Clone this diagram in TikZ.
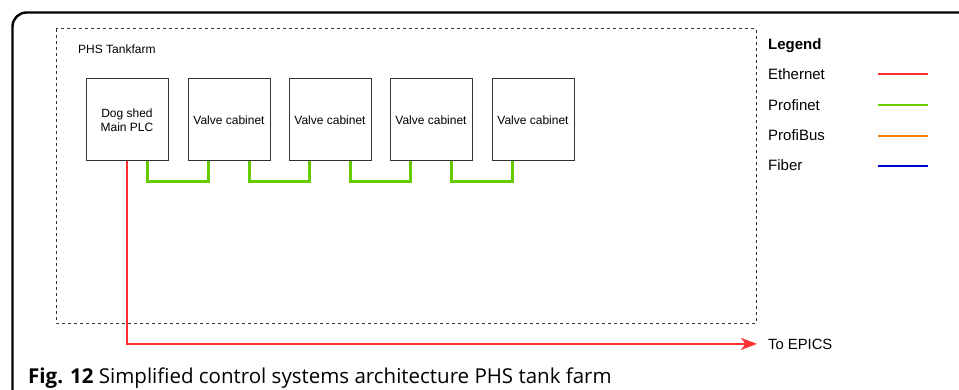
\documentclass[tikz,border=0pt]{standalone}
\usepackage{fontspec}
\setmainfont{Liberation Sans}
\newfontfamily\capfont{Open Sans}
\usetikzlibrary{arrows.meta,calc}

\definecolor{ethred}{HTML}{FF3030}
\definecolor{pngreen}{HTML}{66CC00}
\definecolor{pborange}{HTML}{FF8000}
\definecolor{fibblue}{HTML}{0000CC}
\definecolor{boxgray}{HTML}{333333}

\tikzset{
  cabinet/.style={draw=boxgray, line width=1pt, minimum width=82pt, minimum height=82pt,
    inner sep=0pt, align=center, font=\fontsize{12}{14}\selectfont},
  label/.style={inner sep=0pt, anchor=base west},
  ethernet/.style={draw=ethred, line width=2.4pt},
  profinet/.style={draw=pngreen, line width=2.4pt},
  legline/.style={line width=2.2pt},
}

\begin{document}
\begin{tikzpicture}[x=1pt, y=-1pt]
  \useasboundingbox (0,0) rectangle (959,390);

  % figure frame with rounded top-left corner
  \draw[line width=2.4pt, rounded corners=14pt] (12.5,392) -- (12.5,12.5) -- (962,12.5);

  % tank farm area
  \draw[boxgray, line width=1pt, dash pattern=on 3pt off 3pt] (56,29) rectangle (756,323);
  \node[label, font=\fontsize{12}{14}\selectfont] (area) at (78,54) {PHS Tankfarm};

  % cabinets
  \node[cabinet] (b1) at (127,120) {Dog shed\\Main PLC};
  \node[cabinet] (b2) at (229,120) {Valve cabinet};
  \node[cabinet] (b3) at (330,120) {Valve cabinet};
  \node[cabinet] (b4) at (431,120) {Valve cabinet};
  \node[cabinet] (b5) at (533,120) {Valve cabinet};

  % profinet daisy chain
  \foreach \a/\b in {b1/b2, b2/b3, b3/b4, b4/b5}{
    \draw[profinet] ([xshift=20.5pt]\a.south) -- ++(0,-20pt) -| ([xshift=-20.5pt]\b.south);
  }

  % ethernet uplink
  \node[label, font=\fontsize{14.8}{17}\selectfont] (epics) at (768,349) {To EPICS};
  \draw[ethernet, -{Stealth[length=16pt, width=12pt, inset=4.5pt]}]
    (b1.south) |- ([xshift=-11pt]epics.west);

  % legend
  \node[label, font=\bfseries\fontsize{15}{18}\selectfont] (leg) at (768,50) {Legend};
  \node[label, font=\fontsize{15}{18}\selectfont] (l1) at (768,80) {Ethernet};
  \node[label, font=\fontsize{15}{18}\selectfont] (l2) at (768,110.7) {Profinet};
  \node[label, font=\fontsize{15}{18}\selectfont] (l3) at (768,141) {ProfiBus};
  \node[label, font=\fontsize{15}{18}\selectfont] (l4) at (768,171) {Fiber};
  \coordinate (s1) at (878,74.3);  \coordinate (e1) at (928,74.3);
  \coordinate (s2) at (878,105);   \coordinate (e2) at (928,105);
  \coordinate (s3) at (878,135.7); \coordinate (e3) at (928,135.7);
  \coordinate (s4) at (878,166);   \coordinate (e4) at (928,166);
  \draw[legline, ethred] (s1) -- (e1);
  \draw[legline, pngreen] (s2) -- (e2);
  \draw[legline, pborange] (s3) -- (e3);
  \draw[legline, fibblue] (s4) -- (e4);

  % caption
  \node[label, font=\capfont\fontsize{20.5}{24}\selectfont] (cap) at (28,383)
    {\textbf{Fig. 12} Simplified control systems architecture PHS tank farm};
\end{tikzpicture}
\end{document}
